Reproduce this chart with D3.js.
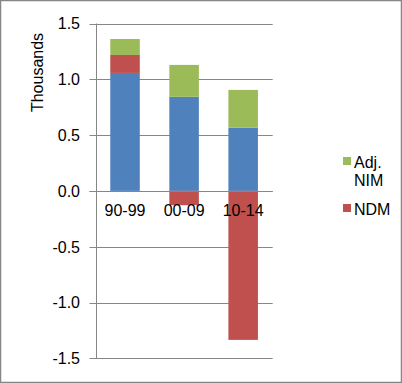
<!DOCTYPE html>
<html><head><meta charset="utf-8">
<script src="https://cdn.jsdelivr.net/npm/d3@7"></script>
<style>body{margin:0;background:#fff}svg{display:block}text{font-family:"Liberation Sans",Arial,sans-serif;fill:#000}</style>
</head><body><svg id="c" width="402" height="383"></svg>
<script>
const categories = ["90-99", "00-09", "10-14"];
const baseValues = [1.057, 0.843, 0.566];
const ndmValues = [0.161, -0.128, -1.335];
const adjNimValues = [0.143, 0.286, 0.339];
const yTicks = [-1.5, -1.0, -0.5, 0.0, 0.5, 1.0, 1.5];
const seriesKeys = ["Base", "NDM", "Adj. NIM"];
const legendKeys = ["Adj. NIM", "NDM"];
const colors = {"Base": "#4F81BD", "NDM": "#C0504D", "Adj. NIM": "#9BBB59"};

(function () {
const rows = categories.map((c, i) => ({cat: c, "Base": baseValues[i], "NDM": ndmValues[i], "Adj. NIM": adjNimValues[i]}));
const svg = d3.select("#c");
svg.append("rect").attr("x", 0.5).attr("y", 0.5).attr("width", 401).attr("height", 382).attr("fill", "#fff").attr("stroke", "#868686").attr("stroke-width", 1.5);

const pL = 95.5, pR = 272.7, pT = 23.5, pB = 358.3;
const x = d3.scaleBand().domain(categories).range([pL, pR]).paddingInner(0.5).paddingOuter(0.25);
const y = d3.scaleLinear().domain([-1.5, 1.5]).range([pB, pT]);

svg.append("g").selectAll("line").data(yTicks).join("line")
  .attr("x1", pL - 6).attr("x2", pR).attr("y1", d => Math.round(y(d)) + 0.5).attr("y2", d => Math.round(y(d)) + 0.5)
  .attr("stroke", "#868686").attr("stroke-width", 1);

const stack = d3.stack().keys(seriesKeys).offset(d3.stackOffsetDiverging);
const layers = stack(rows);
svg.append("g").selectAll("g").data(layers).join("g").attr("fill", d => colors[d.key])
  .selectAll("rect").data(d => d).join("rect")
  .attr("x", d => x(d.data.cat)).attr("width", x.bandwidth())
  .attr("y", d => y(Math.max(d[0], d[1]))).attr("height", d => Math.abs(y(d[0]) - y(d[1])));

svg.append("line").attr("x1", pL - 6).attr("x2", pR).attr("y1", Math.round(y(0)) + 0.5).attr("y2", Math.round(y(0)) + 0.5).attr("stroke", "#868686");
svg.append("line").attr("x1", Math.round(pL) + 0.5).attr("x2", Math.round(pL) + 0.5).attr("y1", pT).attr("y2", pB + 0.5).attr("stroke", "#868686");

svg.append("g").selectAll("text").data(yTicks).join("text")
  .attr("x", 80).attr("y", d => y(d) + 5.8).attr("text-anchor", "end").attr("font-size", 16)
  .text(d => d3.format(".1f")(d).replace("−", "-"));

svg.append("g").selectAll("text").data(categories).join("text")
  .attr("x", d => x(d) + x.bandwidth() / 2).attr("y", y(0) + 25.5).attr("text-anchor", "middle").attr("font-size", 16)
  .text(d => d);

svg.append("text").attr("transform", "translate(43,72.5) rotate(-90)").attr("text-anchor", "middle").attr("font-size", 16).text("Thousands");

const lg = svg.append("g");
const legendPos = [{sy: 157, lines: ["Adj.", "NIM"]}, {sy: 204, lines: ["NDM"]}];
legendKeys.forEach((k, i) => {
  const p = legendPos[i];
  lg.append("rect").attr("x", 343).attr("y", p.sy).attr("width", 8).attr("height", 8).attr("fill", colors[k]);
  p.lines.forEach((t, j) => lg.append("text").attr("x", 354).attr("y", p.sy + 10.5 + j * 18).attr("font-size", 16).text(t));
});
})();
</script></body></html>
